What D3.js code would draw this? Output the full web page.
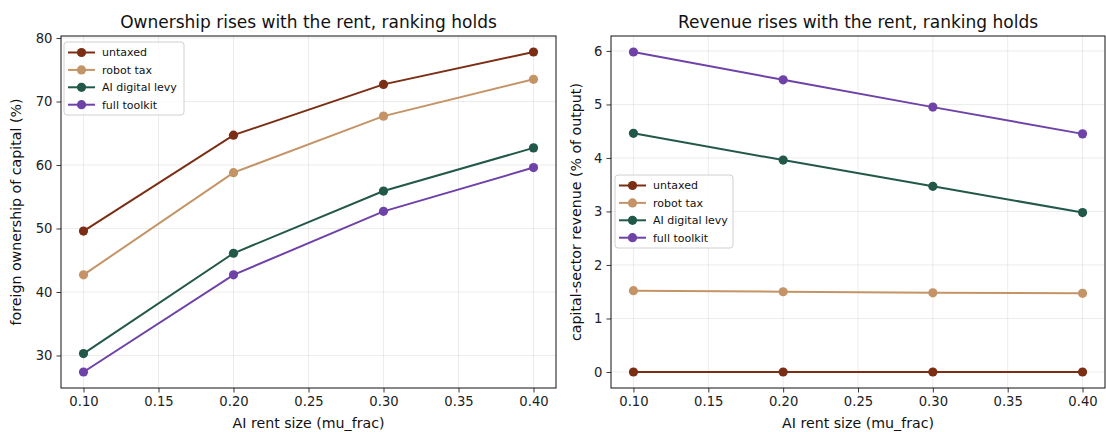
<!DOCTYPE html>
<html><head><meta charset="utf-8">
<script src="https://cdn.jsdelivr.net/npm/d3@7"></script>
<style>body{margin:0;background:#fff}svg{display:block;font-family:"DejaVu Sans",sans-serif}</style>
</head><body><svg id="c" width="1106" height="432"></svg>
<script>
const xVals = [0.10, 0.20, 0.30, 0.40];
const seriesNames = ["untaxed", "robot tax", "AI digital levy", "full toolkit"];
const colors = ["#7b2e14", "#c49467", "#22584a", "#6f42a8"];
const ownership = [
  [49.6, 64.7, 72.7, 77.8],
  [42.7, 58.8, 67.7, 73.5],
  [30.3, 46.1, 55.9, 62.7],
  [27.4, 42.7, 52.7, 59.6]
];
const revenue = [
  [0.0, 0.0, 0.0, 0.0],
  [1.52, 1.50, 1.48, 1.47],
  [4.46, 3.96, 3.47, 2.98],
  [5.98, 5.46, 4.95, 4.45]
];
const xTicks = [0.10, 0.15, 0.20, 0.25, 0.30, 0.35, 0.40];
const yTicksLeft = [30, 40, 50, 60, 70, 80];
const yTicksRight = [0, 1, 2, 3, 4, 5, 6];

const svg = d3.select("#c");

function panel(o) {
  const g = svg.append("g");
  const x = d3.scaleLinear().domain([0.085, 0.415]).range([o.x0, o.x1]);
  const lo = d3.min(o.data.flat()), hi = d3.max(o.data.flat());
  const m = (hi - lo) * 0.05;
  const y = d3.scaleLinear().domain([lo - m, hi + m]).range([o.y1, o.y0]);
  // grid
  g.append("g").selectAll("line").data(xTicks).join("line")
    .attr("x1", d => x(d)).attr("x2", d => x(d)).attr("y1", o.y0).attr("y2", o.y1)
    .attr("stroke", "#b0b0b0").attr("stroke-opacity", 0.3).attr("stroke-width", 0.8);
  g.append("g").selectAll("line").data(o.yTicks).join("line")
    .attr("y1", d => y(d)).attr("y2", d => y(d)).attr("x1", o.x0).attr("x2", o.x1)
    .attr("stroke", "#b0b0b0").attr("stroke-opacity", 0.3).attr("stroke-width", 0.8);
  // axes
  const xa = g.append("g").attr("transform", `translate(0,${o.y1})`)
    .call(d3.axisBottom(x).tickValues(xTicks).tickFormat(d3.format(".2f")).tickSize(4.5).tickPadding(4));
  const ya = g.append("g").attr("transform", `translate(${o.x0},0)`)
    .call(d3.axisLeft(y).tickValues(o.yTicks).tickFormat(d3.format("d")).tickSize(4.5).tickPadding(4));
  [xa, ya].forEach(a => {
    a.select(".domain").remove();
    a.selectAll("text").attr("font-size", 13.2).attr("fill", "#222").attr("font-family", "DejaVu Sans");
    a.selectAll("line").attr("stroke", "#222").attr("stroke-width", 0.9);
  });
  g.append("rect").attr("x", o.x0).attr("y", o.y0).attr("width", o.x1 - o.x0).attr("height", o.y1 - o.y0)
    .attr("fill", "none").attr("stroke", "#111").attr("stroke-width", 1);
  // lines
  const line = d3.line().x((d, i) => x(xVals[i])).y(d => y(d));
  o.data.forEach((s, k) => {
    g.append("path").datum(s).attr("d", line).attr("fill", "none")
      .attr("stroke", colors[k]).attr("stroke-width", 2);
    g.append("g").selectAll("circle").data(s).join("circle")
      .attr("cx", (d, i) => x(xVals[i])).attr("cy", d => y(d)).attr("r", 4.6).attr("fill", colors[k]);
  });
  // labels
  g.append("text").attr("x", (o.x0 + o.x1) / 2).attr("y", 28).attr("text-anchor", "middle")
    .attr("font-size", 17).attr("fill", "#111").text(o.title);
  g.append("text").attr("x", (o.x0 + o.x1) / 2).attr("y", 428).attr("text-anchor", "middle")
    .attr("font-size", 14.2).attr("fill", "#111").text("AI rent size (mu_frac)");
  g.append("text").attr("transform", `translate(${o.ylx},${(o.y0 + o.y1) / 2}) rotate(-90)`)
    .attr("text-anchor", "middle").attr("font-size", 14.2).attr("fill", "#111").text(o.ylabel);
  // legend
  const lg = g.append("g").attr("transform", `translate(${o.lx},${o.ly})`);
  lg.append("rect").attr("x", 0).attr("y", 0).attr("width", o.lw).attr("height", 73).attr("rx", 3)
    .attr("fill", "#fff").attr("fill-opacity", 0.8).attr("stroke", "#d0d0d0").attr("stroke-width", 1);
  seriesNames.forEach((n, k) => {
    const yy = 10.5 + k * 17.4;
    lg.append("line").attr("x1", 4).attr("x2", 31).attr("y1", yy).attr("y2", yy)
      .attr("stroke", colors[k]).attr("stroke-width", 2);
    lg.append("circle").attr("cx", 17.5).attr("cy", yy).attr("r", 4.6).attr("fill", colors[k]);
    lg.append("text").attr("x", 38).attr("y", yy + 3.8).attr("font-size", 11).attr("fill", "#111").text(n);
  });
}

panel({x0: 61, x1: 556, y0: 36, y1: 388, data: ownership, yTicks: yTicksLeft,
  title: "Ownership rises with the rent, ranking holds", ylabel: "foreign ownership of capital (%)",
  ylx: 21, lx: 64, ly: 42, lw: 120});
panel({x0: 611, x1: 1105, y0: 36, y1: 388, data: revenue, yTicks: yTicksRight,
  title: "Revenue rises with the rent, ranking holds", ylabel: "capital-sector revenue (% of output)",
  ylx: 581, lx: 615, ly: 175, lw: 118});
</script></body></html>
